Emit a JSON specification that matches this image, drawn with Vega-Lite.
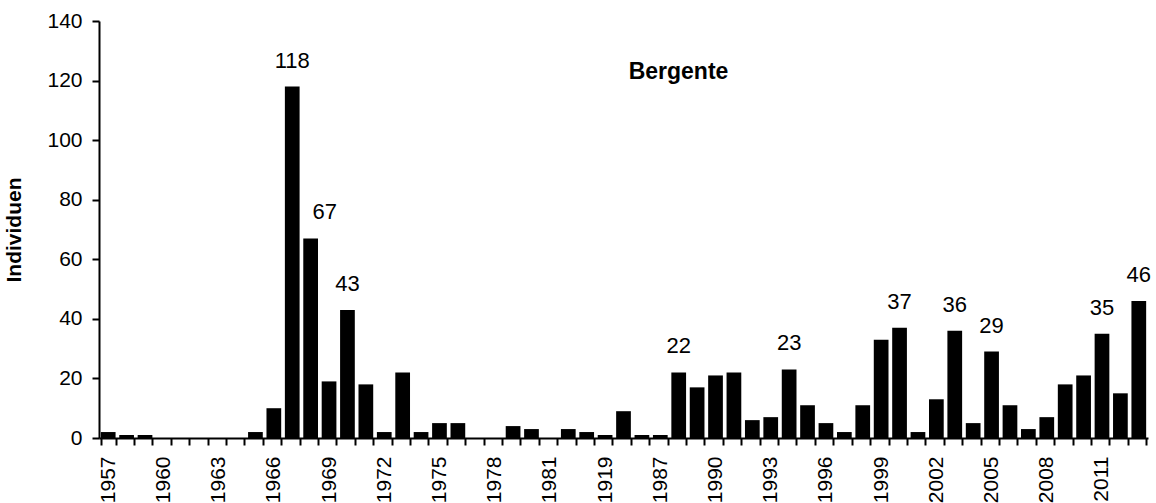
{
  "$schema": "https://vega.github.io/schema/vega-lite/v6.json",
  "width": 1049,
  "height": 417,
  "autosize": {"type": "none"},
  "padding": {"left": 99, "top": 21, "right": 8, "bottom": 65},
  "background": "white",
  "config": {
    "view": {"stroke": null},
    "font": "Liberation Sans"
  },
  "title": {
    "text": "Bergente",
    "font": "Liberation Sans",
    "fontSize": 23,
    "fontWeight": "bold",
    "color": "black",
    "anchor": "middle",
    "frame": "group",
    "baseline": "middle",
    "dx": 55,
    "offset": -85
  },
  "data": {
    "values": [
      {"Jahr": "1957", "Individuen": 2},
      {"Jahr": "1958", "Individuen": 1},
      {"Jahr": "1959", "Individuen": 1},
      {"Jahr": "1960", "Individuen": 0},
      {"Jahr": "1961", "Individuen": 0},
      {"Jahr": "1962", "Individuen": 0},
      {"Jahr": "1963", "Individuen": 0},
      {"Jahr": "1964", "Individuen": 0},
      {"Jahr": "1965", "Individuen": 2},
      {"Jahr": "1966", "Individuen": 10},
      {"Jahr": "1967", "Individuen": 118},
      {"Jahr": "1968", "Individuen": 67},
      {"Jahr": "1969", "Individuen": 19},
      {"Jahr": "1970", "Individuen": 43},
      {"Jahr": "1971", "Individuen": 18},
      {"Jahr": "1972", "Individuen": 2},
      {"Jahr": "1973", "Individuen": 22},
      {"Jahr": "1974", "Individuen": 2},
      {"Jahr": "1975", "Individuen": 5},
      {"Jahr": "1976", "Individuen": 5},
      {"Jahr": "1977", "Individuen": 0},
      {"Jahr": "1978", "Individuen": 0},
      {"Jahr": "1979", "Individuen": 4},
      {"Jahr": "1980", "Individuen": 3},
      {"Jahr": "1981", "Individuen": 0},
      {"Jahr": "1982", "Individuen": 3},
      {"Jahr": "1983", "Individuen": 2},
      {"Jahr": "1919", "Individuen": 1},
      {"Jahr": "1985", "Individuen": 9},
      {"Jahr": "1986", "Individuen": 1},
      {"Jahr": "1987", "Individuen": 1},
      {"Jahr": "1988", "Individuen": 22},
      {"Jahr": "1989", "Individuen": 17},
      {"Jahr": "1990", "Individuen": 21},
      {"Jahr": "1991", "Individuen": 22},
      {"Jahr": "1992", "Individuen": 6},
      {"Jahr": "1993", "Individuen": 7},
      {"Jahr": "1994", "Individuen": 23},
      {"Jahr": "1995", "Individuen": 11},
      {"Jahr": "1996", "Individuen": 5},
      {"Jahr": "1997", "Individuen": 2},
      {"Jahr": "1998", "Individuen": 11},
      {"Jahr": "1999", "Individuen": 33},
      {"Jahr": "2000", "Individuen": 37},
      {"Jahr": "2001", "Individuen": 2},
      {"Jahr": "2002", "Individuen": 13},
      {"Jahr": "2003", "Individuen": 36},
      {"Jahr": "2004", "Individuen": 5},
      {"Jahr": "2005", "Individuen": 29},
      {"Jahr": "2006", "Individuen": 11},
      {"Jahr": "2007", "Individuen": 3},
      {"Jahr": "2008", "Individuen": 7},
      {"Jahr": "2009", "Individuen": 18},
      {"Jahr": "2010", "Individuen": 21},
      {"Jahr": "2011", "Individuen": 35},
      {"Jahr": "2012", "Individuen": 15},
      {"Jahr": "2013", "Individuen": 46}
    ]
  },
  "encoding": {
    "x": {
      "field": "Jahr",
      "type": "nominal",
      "sort": null,
      "scale": {"paddingInner": 0.2, "paddingOuter": 0.1},
      "axis": {
        "title": null,
        "domainColor": "black",
        "domainWidth": 2,
        "tickColor": "black",
        "tickWidth": 2,
        "tickSize": 7,
        "tickBand": "extent",
        "labelAngle": -90,
        "labelAlign": "right",
        "labelBaseline": "middle",
        "labelPadding": 11,
        "labelFontSize": 21,
        "labelColor": "black",
        "labelFont": "Liberation Sans",
        "labelOverlap": false,
        "labelExpr": "indexof(['1957','1960','1963','1966','1969','1972','1975','1978','1981','1919','1987','1990','1993','1996','1999','2002','2005','2008','2011'], datum.value) >= 0 ? datum.value : ''"
      }
    },
    "y": {
      "field": "Individuen",
      "type": "quantitative",
      "scale": {"domain": [0, 140], "nice": false},
      "axis": {
        "title": "Individuen",
        "titleFont": "Liberation Sans",
        "titleFontSize": 21,
        "titleFontWeight": "bold",
        "titleColor": "black",
        "titlePadding": 22,
        "values": [0, 20, 40, 60, 80, 100, 120, 140],
        "grid": false,
        "domainColor": "black",
        "domainWidth": 2,
        "tickColor": "black",
        "tickWidth": 2,
        "tickSize": 7,
        "labelPadding": 10,
        "labelFontSize": 21,
        "labelColor": "black",
        "labelFont": "Liberation Sans"
      }
    }
  },
  "layer": [
    {
      "mark": {"type": "bar", "color": "black"}
    },
    {
      "transform": [
        {"filter": "indexof(['1967','1970','1988','1994','2000','2003','2005','2011','2013'], datum.Jahr) >= 0"}
      ],
      "mark": {
        "type": "text",
        "font": "Liberation Sans",
        "fontSize": 22,
        "color": "black",
        "baseline": "alphabetic",
        "align": "center",
        "dy": -19
      },
      "encoding": {
        "text": {"field": "Individuen", "type": "quantitative"}
      }
    },
    {
      "transform": [
        {"filter": "datum.Jahr == '1968'"}
      ],
      "mark": {
        "type": "text",
        "font": "Liberation Sans",
        "fontSize": 22,
        "color": "black",
        "baseline": "alphabetic",
        "align": "center",
        "dx": 14,
        "dy": -19
      },
      "encoding": {
        "text": {"field": "Individuen", "type": "quantitative"}
      }
    }
  ]
}
